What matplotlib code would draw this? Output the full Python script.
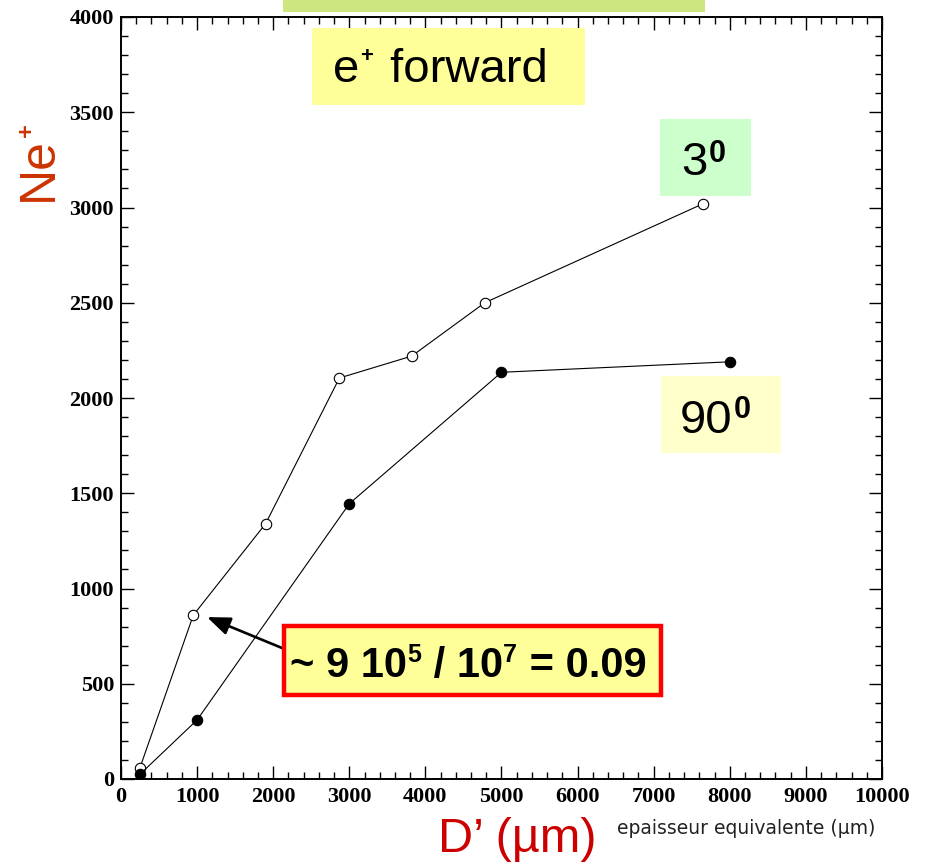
import matplotlib
matplotlib.use("Agg")
import matplotlib.pyplot as plt
from matplotlib.patches import Rectangle
from matplotlib.ticker import MultipleLocator

# Equivalent thickness (um) and number of positrons for each emission angle
thick_3deg = [250, 950, 1900, 2870, 3820, 4780, 7650]
ne_3deg = [60, 860, 1340, 2105, 2220, 2500, 3020]
thick_90deg = [250, 1000, 3000, 5000, 8000]
ne_90deg = [25, 310, 1445, 2135, 2190]

x_ticks = [0, 1000, 2000, 3000, 4000, 5000, 6000, 7000, 8000, 9000, 10000]
y_ticks = [0, 500, 1000, 1500, 2000, 2500, 3000, 3500, 4000]

W, H = 929, 866
fig = plt.figure(figsize=(W / 100, H / 100), dpi=100)
ax = fig.add_axes([121 / W, 1 - 779 / H, 761 / W, 762 / H])
renderer = fig.canvas.get_renderer()


def fbox(x0, y0, x1, y1, face, edge="none", lw=0.0, z=5):
    """Rectangle given in pixel coordinates (origin top-left)."""
    r = Rectangle((x0 / W, 1 - y1 / H), (x1 - x0) / W, (y1 - y0) / H,
                  transform=fig.transFigure, facecolor=face, edgecolor=edge,
                  linewidth=lw, zorder=z)
    fig.patches.append(r)


def ftext(x, y, s, **kw):
    return fig.text(x / W, 1 - y / H, s, **kw)


def advance(s, **kw):
    """Pen advance of a string in pixels, spaces included."""
    def width(txt):
        t = fig.text(0, 0, txt, **kw)
        w = t.get_window_extent(renderer=renderer).width
        t.remove()
        return w
    return width("|" + s + "|") - width("||")


def rich(x, y, parts, family="Liberation Sans", color="black", z=6):
    """Write text pieces one after the other on a common baseline.

    Each part is (string, fontsize, rise_px, weight, extra_gap_px)."""
    cx = x
    for s, size, rise, weight, gap in parts:
        cx += gap
        style = dict(fontsize=size, fontweight=weight, family=family)
        ftext(cx, y - rise, s, color=color, ha="left", va="baseline",
              zorder=z, **style)
        cx += advance(s, **style)


ax.plot(thick_3deg, ne_3deg, "-", color="black", lw=0.8, marker="o",
        mfc="white", mec="black", ms=7.5, mew=0.8, zorder=3)
ax.plot(thick_90deg, ne_90deg, "-", color="black", lw=0.8, marker="o",
        mfc="black", mec="black", ms=7.5, mew=0.8, zorder=3)

ax.set_xlim(0, 10000)
ax.set_ylim(0, 4000)
ax.set_xticks(x_ticks)
ax.set_yticks(y_ticks)
ax.xaxis.set_minor_locator(MultipleLocator(200))
ax.yaxis.set_minor_locator(MultipleLocator(100))
ax.tick_params(which="both", direction="in", top=True, right=True, width=1.0)
ax.tick_params(which="major", length=9.5)
ax.tick_params(which="minor", length=5)
ax.tick_params(axis="x", pad=6)
ax.tick_params(axis="y", pad=5)
for lab in ax.get_xticklabels() + ax.get_yticklabels():
    lab.set_fontfamily("Liberation Serif")
    lab.set_fontweight("bold")
    lab.set_fontsize(16)
for sp in ax.spines.values():
    sp.set_linewidth(1.4)

# Boxed labels
fbox(283, 0, 705, 12, "#cde680")

fbox(312, 28, 585, 105, "#ffff99")
rich(333, 82, [("e", 34, 0, "normal", 0), ("+", 16, 20, "bold", 1),
               (" forward", 34, 0, "normal", 4)])

fbox(660, 119, 751, 196, "#ccffcc")
rich(681, 175, [("3", 34, 0, "normal", 0), ("0", 22, 13, "bold", 1)])

fbox(661, 376, 781, 453, "#ffffcc")
rich(680, 433, [("90", 34, 0, "normal", 0), ("0", 22, 15, "bold", 1)])

fbox(284, 626, 661, 695, "#ffff99", edge="#ff0000", lw=3.2)
rich(290, 677, [("~ 9 10", 30, 0, "bold", 0), ("5", 18, 15, "bold", 0),
                (" / 10", 30, 0, "bold", 1), ("7", 18, 15, "bold", 0),
                (" = 0.09", 30, 0, "bold", 1)])

ax.annotate("", xy=(1130, 850), xycoords="data",
            xytext=(282 / W, 1 - 648 / H), textcoords="figure fraction",
            arrowprops=dict(arrowstyle="-|>,head_length=1.4,head_width=0.55",
                            color="black", lw=1.9, shrinkA=0, shrinkB=0),
            zorder=6, annotation_clip=False)

# Axis titles
ftext(52, 169, "Ne", fontsize=36, family="Liberation Sans", color="#cc3300",
      rotation=90, rotation_mode="anchor", ha="center", va="baseline")
ftext(33, 130, "+", fontsize=17, family="Liberation Sans", color="#cc3300",
      fontweight="bold", rotation=90, rotation_mode="anchor",
      ha="center", va="baseline")
ftext(438, 852, "D\u2019 (\u00b5m)", fontsize=35, family="Liberation Sans",
      color="#cc0000", ha="left", va="baseline")
ftext(617, 834, "epaisseur equivalente (\u00b5m)", fontsize=13.5,
      family="DejaVu Sans", color="#222222", ha="left", va="baseline")

fig.savefig("out.png", dpi=100)
